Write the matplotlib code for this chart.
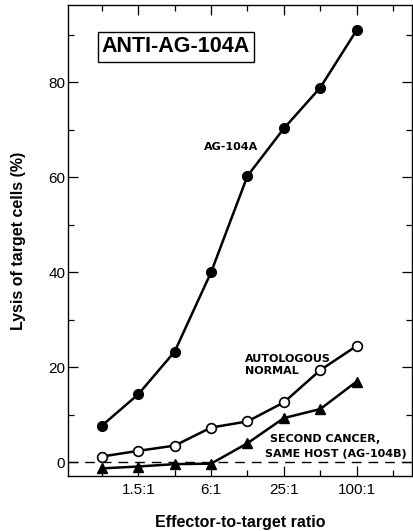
import matplotlib
matplotlib.use("Agg")
import matplotlib.pyplot as plt
import numpy as np

ratios = ["0.75:1", "1.5:1", "3:1", "6:1", "12:1", "25:1", "50:1", "100:1"]
tick_labels = ["", "1.5:1", "", "6:1", "", "25:1", "", "100:1", ""]
ag104a = [7.7, 14.3, 23.3, 40.0, 60.3, 70.3, 78.9, 91.0]
autologous = [1.2, 2.4, 3.5, 7.3, 8.6, 12.6, 19.4, 24.5]
second_cancer = [-1.3, -0.9, -0.4, -0.3, 4.0, 9.3, 11.2, 17.0]

plt.rcParams['font.family'] = ['Liberation Sans', 'DejaVu Sans']

fig = plt.figure(figsize=(4.13, 5.31), dpi=100)
ax = fig.add_axes([68/413, 1-476/531, (412-68)/413, (476-5)/531])

x = np.arange(len(ratios))
ax.axhline(0, color='black', lw=1.0, ls=(0, (7, 5)), zorder=1)
ax.plot(x, ag104a, '-o', color='black', lw=1.8, ms=7, mfc='black', zorder=3)
ax.plot(x, autologous, '-o', color='black', lw=1.8, ms=7, mfc='white', mew=1.2, zorder=3)
ax.plot(x, second_cancer, '-^', color='black', lw=1.8, ms=7, mfc='black', zorder=3)

ax.set_xlim(-0.93, 8.52)
ax.set_ylim(-2.9, 96.3)

ax.set_xticks(np.arange(1, 8, 2))
ax.set_xticklabels([tick_labels[i] for i in range(1, 8, 2)])
ax.set_xticks(np.arange(0, 9, 2), minor=True)
ax.set_yticks([0, 20, 40, 60, 80])
ax.set_yticks([10, 30, 50, 70, 90], minor=True)
ax.tick_params(axis='both', which='both', direction='in', top=True, right=True,
               labelsize=11, width=0.9)
ax.tick_params(axis='both', which='major', length=7)
ax.tick_params(axis='y', which='major', pad=2)
ax.tick_params(axis='x', which='major', pad=5)
ax.tick_params(axis='both', which='minor', length=4)
for s in ax.spines.values():
    s.set_linewidth(1.0)

ax.set_ylabel("Lysis of target cells (%)", fontsize=11.5, fontweight='bold', labelpad=16)
ax.set_xlabel("Effector-to-target ratio", fontsize=11.5, fontweight='bold', labelpad=13)

ax.text(0.314, 0.911, "ANTI-AG-104A", transform=ax.transAxes, ha='center', va='center',
        fontsize=15.5, fontweight='bold',
        bbox=dict(boxstyle='square,pad=0.2', fc='white', ec='black', lw=1.0))
lab = dict(fontsize=8, fontweight='bold', family=['DejaVu Sans'])
ax.text(4.29, 66.4, "AG-104A", ha='right', va='center', **lab)
ax.text(3.93, 20.5, "AUTOLOGOUS\nNORMAL", ha='left', va='center', linespacing=1.2, **lab)
ax.text(4.62, 4.8, "SECOND CANCER,", ha='left', va='center', **lab)
ax.text(4.47, 1.8, "SAME HOST (AG-104B)", ha='left', va='center', **lab)

fig.savefig("out.png", dpi=100)
